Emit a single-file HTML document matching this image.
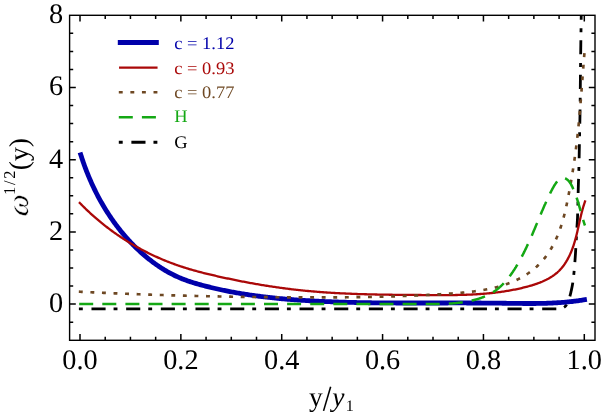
<!DOCTYPE html>
<html><head><meta charset="utf-8"><title>plot</title>
<style>
html,body{margin:0;padding:0;background:#fff;}
body{width:602px;height:416px;overflow:hidden;font-family:"Liberation Serif",serif;}
svg{display:block;will-change:transform;}
text{text-rendering:geometricPrecision;}
.ls, .ls text, .ls tspan{font-family:"Liberation Serif",serif;}
</style></head><body>
<svg width="602" height="416" viewBox="0 0 602 416">
<rect x="0" y="0" width="602" height="416" fill="#fff"/>
<defs><clipPath id="cp"><rect x="69.6" y="15.3" width="525.4" height="325.0"/></clipPath></defs>
<g clip-path="url(#cp)" fill="none" stroke-linejoin="round">
<path d="M78.9,308.8 L552.00,308.80 L552.63,308.80 L553.25,308.80 L553.88,308.80 L554.51,308.80 L555.13,308.80 L555.76,308.80 L556.39,308.80 L557.02,308.79 L557.64,308.78 L558.27,308.75 L558.90,308.73 L559.52,308.70 L560.15,308.64 L560.78,308.55 L561.40,308.43 L562.01,308.28 L562.58,308.11 L563.16,307.86 L563.73,307.54 L564.28,307.17 L564.79,306.77 L565.24,306.36 L565.64,305.94 L566.01,305.48 L566.36,304.98 L566.70,304.45 L567.01,303.89 L567.31,303.31 L567.60,302.73 L567.87,302.13 L568.12,301.54 L568.36,300.95 L568.59,300.37 L568.81,299.79 L569.01,299.20 L569.21,298.61 L569.40,298.01 L569.58,297.41 L569.75,296.80 L569.92,296.19 L570.08,295.58 L570.24,294.97 L570.39,294.36 L570.54,293.75 L570.68,293.14 L570.83,292.54 L570.97,291.93 L571.11,291.31 L571.25,290.70 L571.38,290.09 L571.51,289.48 L571.64,288.86 L571.77,288.25 L571.90,287.63 L572.02,287.02 L572.14,286.40 L572.26,285.78 L572.37,285.16 L572.48,284.55 L572.58,283.93 L572.69,283.31 L572.79,282.69 L572.88,282.07 L572.97,281.45 L573.06,280.83 L573.14,280.21 L573.22,279.59 L573.29,278.97 L573.37,278.35 L573.44,277.73 L573.52,277.11 L573.58,276.48 L573.65,275.86 L573.72,275.24 L573.78,274.61 L573.85,273.99 L573.91,273.37 L573.97,272.74 L574.03,272.12 L574.09,271.49 L574.15,270.87 L574.20,270.24 L574.26,269.62 L574.31,268.99 L574.37,268.37 L574.42,267.74 L574.47,267.12 L574.52,266.49 L574.57,265.87 L574.62,265.24 L574.67,264.62 L574.72,263.99 L574.77,263.37 L574.82,262.74 L574.87,262.12 L574.92,261.49 L574.96,260.87 L575.01,260.24 L575.05,259.62 L575.10,258.99 L575.14,258.37 L575.19,257.74 L575.23,257.11 L575.27,256.49 L575.31,255.86 L575.36,255.24 L575.40,254.61 L575.44,253.99 L575.48,253.36 L575.52,252.74 L575.56,252.11 L575.59,251.48 L575.63,250.86 L575.67,250.23 L575.71,249.61 L575.75,248.98 L575.78,248.36 L575.82,247.73 L575.86,247.10 L575.90,246.48 L575.93,245.85 L575.97,245.23 L576.01,244.60 L576.04,243.98 L576.08,243.35 L576.12,242.72 L576.15,242.10 L576.19,241.47 L576.22,240.85 L576.26,240.22 L576.29,239.59 L576.32,238.97 L576.36,238.34 L576.39,237.72 L576.42,237.09 L576.45,236.47 L576.49,235.84 L576.52,235.21 L576.55,234.59 L576.58,233.96 L576.61,233.34 L576.65,232.71 L576.68,232.08 L576.71,231.46 L576.74,230.83 L576.78,230.21 L576.81,229.58 L576.85,228.95 L576.88,228.33 L576.92,227.70 L576.95,227.08 L576.99,226.45 L577.03,225.82 L577.08,225.20 L577.12,224.57 L577.16,223.95 L577.20,223.32 L577.24,222.70 L577.28,222.07 L577.32,221.45 L577.36,220.82 L577.40,220.19 L577.43,219.57 L577.46,218.94 L577.49,218.32 L577.51,217.69 L577.54,217.06 L577.56,216.44 L577.58,215.81 L577.60,215.19 L577.62,214.56 L577.64,213.93 L577.66,213.31 L577.68,212.68 L577.70,212.05 L577.72,211.43 L577.74,210.80 L577.75,210.17 L577.77,209.55 L577.79,208.92 L577.80,208.29 L577.82,207.67 L577.83,207.04 L577.85,206.41 L577.86,205.79 L577.88,205.16 L577.89,204.53 L577.91,203.91 L577.92,203.28 L577.93,202.65 L577.95,202.03 L577.96,201.40 L577.97,200.77 L577.99,200.15 L578.00,199.52 L578.01,198.89 L578.03,198.27 L578.04,197.64 L578.05,197.01 L578.07,196.39 L578.08,195.76 L578.10,195.13 L578.11,194.51 L578.13,193.88 L578.14,193.25 L578.16,192.63 L578.17,192.00 L578.19,191.37 L578.20,190.75 L578.22,190.12 L578.24,189.49 L578.25,188.87 L578.27,188.24 L578.29,187.61 L578.31,186.99 L578.33,186.36 L578.34,185.73 L578.36,185.11 L578.38,184.48 L578.40,183.85 L578.42,183.23 L578.44,182.60 L578.46,181.97 L578.48,181.35 L578.50,180.72 L578.52,180.09 L578.54,179.47 L578.56,178.84 L578.58,178.22 L578.60,177.59 L578.62,176.96 L578.64,176.34 L578.66,175.71 L578.68,175.08 L578.70,174.46 L578.72,173.83 L578.74,173.20 L578.76,172.58 L578.78,171.95 L578.80,171.32 L578.82,170.70 L578.84,170.07 L578.85,169.44 L578.87,168.82 L578.89,168.19 L578.91,167.56 L578.92,166.94 L578.94,166.31 L578.96,165.68 L578.97,165.06 L578.99,164.43 L579.00,163.80 L579.02,163.18 L579.03,162.55 L579.05,161.93 L579.06,161.30 L579.08,160.67 L579.09,160.05 L579.10,159.42 L579.12,158.79 L579.13,158.17 L579.14,157.54 L579.16,156.91 L579.17,156.29 L579.18,155.66 L579.19,155.03 L579.21,154.41 L579.22,153.78 L579.23,153.15 L579.24,152.52 L579.25,151.90 L579.27,151.27 L579.28,150.64 L579.29,150.02 L579.30,149.39 L579.31,148.76 L579.33,148.14 L579.34,147.51 L579.35,146.88 L579.36,146.26 L579.37,145.63 L579.38,145.00 L579.40,144.38 L579.41,143.75 L579.42,143.12 L579.43,142.50 L579.44,141.87 L579.46,141.24 L579.47,140.62 L579.48,139.99 L579.49,139.36 L579.51,138.74 L579.52,138.11 L579.53,137.48 L579.54,136.86 L579.56,136.23 L579.57,135.60 L579.58,134.98 L579.60,134.35 L579.61,133.72 L579.62,133.10 L579.64,132.47 L579.65,131.84 L579.66,131.22 L579.68,130.59 L579.69,129.96 L579.71,129.34 L579.72,128.71 L579.73,128.08 L579.75,127.46 L579.76,126.83 L579.77,126.20 L579.79,125.58 L579.80,124.95 L579.81,124.32 L579.82,123.70 L579.84,123.07 L579.85,122.44 L579.86,121.82 L579.88,121.19 L579.89,120.56 L579.90,119.94 L579.91,119.31 L579.92,118.68 L579.93,118.06 L579.94,117.43 L579.96,116.80 L579.97,116.18 L579.98,115.55 L579.99,114.92 L580.00,114.30 L580.00,113.67 L580.01,113.04 L580.02,112.42 L580.03,111.79 L580.04,111.16 L580.05,110.54 L580.06,109.91 L580.07,109.28 L580.07,108.66 L580.08,108.03 L580.09,107.40 L580.10,106.78 L580.11,106.15 L580.11,105.52 L580.12,104.90 L580.13,104.27 L580.14,103.64 L580.15,103.01 L580.15,102.39 L580.16,101.76 L580.17,101.13 L580.17,100.51 L580.18,99.88 L580.19,99.25 L580.20,98.63 L580.20,98.00 L580.21,97.37 L580.22,96.75 L580.22,96.12 L580.23,95.49 L580.24,94.87 L580.24,94.24 L580.25,93.61 L580.25,92.99 L580.26,92.36 L580.27,91.73 L580.27,91.11 L580.28,90.48 L580.29,89.85 L580.29,89.23 L580.30,88.60 L580.31,87.97 L580.31,87.35 L580.32,86.72 L580.32,86.09 L580.33,85.46 L580.34,84.84 L580.34,84.21 L580.35,83.58 L580.35,82.96 L580.36,82.33 L580.37,81.70 L580.37,81.08 L580.38,80.45 L580.38,79.82 L580.39,79.20 L580.40,78.57 L580.40,77.94 L580.41,77.32 L580.42,76.69 L580.42,76.06 L580.43,75.44 L580.43,74.81 L580.44,74.18 L580.45,73.56 L580.45,72.93 L580.46,72.30 L580.47,71.68 L580.47,71.05 L580.48,70.42 L580.49,69.80 L580.49,69.17 L580.50,68.54 L580.51,67.91 L580.51,67.29 L580.52,66.66 L580.53,66.03 L580.54,65.41 L580.54,64.78 L580.55,64.15 L580.56,63.53 L580.56,62.90 L580.57,62.27 L580.58,61.65 L580.59,61.02 L580.60,60.39 L580.60,59.77 L580.61,59.14 L580.62,58.51 L580.63,57.89 L580.63,57.26 L580.64,56.63 L580.65,56.01 L580.66,55.38 L580.67,54.75 L580.68,54.13 L580.68,53.50 L580.69,52.87 L580.70,52.25 L580.71,51.62 L580.72,50.99 L580.73,50.37 L580.73,49.74 L580.74,49.11 L580.75,48.48 L580.76,47.86 L580.77,47.23 L580.78,46.60 L580.79,45.98 L580.80,45.35 L580.80,44.72 L580.81,44.10 L580.82,43.47 L580.83,42.84 L580.84,42.22 L580.85,41.59 L580.86,40.96 L580.87,40.34 L580.88,39.71 L580.88,39.08 L580.89,38.46 L580.90,37.83 L580.91,37.20 L580.92,36.58 L580.93,35.95 L580.94,35.32 L580.95,34.70 L580.96,34.07 L580.97,33.44 L580.98,32.82 L580.99,32.19 L580.99,31.56 L581.00,30.94 L581.01,30.31 L581.02,29.68 L581.03,29.06 L581.04,28.43 L581.05,27.80 L581.06,27.18 L581.07,26.55 L581.08,25.92 L581.09,25.30 L581.10,24.67 L581.11,24.04 L581.12,23.41 L581.13,22.79 L581.14,22.16 L581.15,21.53 L581.16,20.91 L581.17,20.28 L581.18,19.65 L581.19,19.03 L581.20,18.40 L581.21,17.77 L581.22,17.15 L581.23,16.52 L581.24,15.89 L581.25,15.27 L581.26,14.64 L581.27,14.01 L581.28,13.39 L581.29,12.76 L581.30,12.13 L581.31,11.51 L581.32,10.88 L581.33,10.25 L581.34,9.63 L581.35,9.00" stroke="#000000" stroke-width="2.8" stroke-dasharray="3.9 8.68 14.12 7.97"/>
<path d="M80.77,154.67 L81.12,155.75 L81.46,156.83 L81.81,157.91 L82.17,158.99 L82.53,160.07 L82.89,161.14 L83.26,162.22 L83.64,163.29 L84.02,164.37 L84.40,165.44 L84.79,166.51 L85.19,167.58 L85.59,168.65 L85.99,169.71 L86.40,170.78 L86.82,171.84 L87.24,172.90 L87.66,173.96 L88.09,175.02 L88.53,176.08 L88.97,177.13 L89.41,178.18 L89.86,179.23 L90.32,180.28 L90.78,181.33 L91.24,182.38 L91.71,183.42 L92.19,184.46 L92.67,185.50 L93.15,186.54 L93.64,187.57 L94.14,188.60 L94.64,189.63 L95.14,190.66 L95.65,191.69 L96.16,192.71 L96.68,193.73 L97.21,194.75 L97.74,195.77 L98.27,196.78 L98.81,197.79 L99.36,198.80 L99.91,199.80 L100.46,200.80 L101.02,201.80 L101.59,202.80 L102.16,203.79 L102.73,204.78 L103.31,205.77 L103.90,206.76 L104.49,207.74 L105.08,208.71 L105.68,209.69 L106.29,210.66 L106.90,211.63 L107.51,212.60 L108.13,213.56 L108.76,214.52 L109.39,215.47 L110.02,216.42 L110.66,217.37 L111.31,218.31 L111.96,219.26 L112.61,220.19 L113.27,221.13 L113.94,222.06 L114.61,222.98 L115.29,223.90 L115.97,224.82 L116.65,225.74 L117.34,226.65 L118.04,227.55 L118.74,228.45 L119.45,229.35 L120.16,230.25 L120.87,231.14 L121.59,232.02 L122.32,232.90 L123.05,233.78 L123.79,234.65 L124.53,235.52 L125.28,236.38 L126.03,237.24 L126.78,238.10 L127.55,238.95 L128.31,239.79 L129.08,240.63 L129.86,241.47 L130.64,242.30 L131.43,243.12 L132.22,243.95 L133.02,244.76 L133.82,245.57 L134.63,246.38 L135.44,247.18 L136.26,247.98 L137.08,248.77 L137.91,249.55 L138.74,250.33 L139.58,251.11 L140.42,251.88 L141.27,252.65 L142.12,253.40 L142.98,254.16 L143.85,254.91 L144.71,255.65 L145.59,256.39 L146.47,257.12 L147.35,257.84 L148.24,258.56 L149.13,259.28 L150.03,259.98 L150.94,260.69 L151.85,261.38 L152.76,262.07 L153.68,262.75 L154.60,263.42 L155.53,264.09 L156.47,264.75 L157.41,265.40 L158.35,266.05 L159.30,266.68 L160.25,267.31 L161.21,267.94 L162.17,268.55 L163.14,269.15 L164.12,269.75 L165.09,270.34 L166.08,270.92 L167.06,271.49 L168.06,272.05 L169.05,272.60 L170.06,273.15 L171.06,273.68 L172.07,274.21 L173.09,274.72 L174.11,275.23 L175.14,275.72 L176.17,276.21 L177.20,276.69 L178.24,277.15 L179.29,277.61 L180.34,278.05 L181.39,278.48 L182.45,278.91 L183.51,279.32 L184.57,279.73 L185.64,280.12 L186.72,280.51 L187.79,280.89 L188.87,281.26 L189.96,281.63 L191.04,281.98 L192.13,282.33 L193.22,282.68 L194.31,283.01 L195.41,283.34 L196.51,283.66 L197.61,283.98 L198.71,284.30 L199.81,284.60 L200.91,284.91 L202.02,285.21 L203.12,285.50 L204.23,285.79 L205.34,286.08 L206.45,286.36 L207.56,286.64 L208.67,286.92 L209.78,287.19 L210.89,287.46 L212.00,287.73 L213.11,288.00 L214.23,288.26 L215.34,288.51 L216.45,288.77 L217.57,289.02 L218.68,289.27 L219.80,289.51 L220.92,289.75 L222.03,289.99 L223.15,290.23 L224.27,290.46 L225.39,290.69 L226.51,290.91 L227.63,291.14 L228.75,291.36 L229.87,291.57 L230.99,291.79 L232.11,292.00 L233.24,292.21 L234.36,292.41 L235.48,292.61 L236.61,292.81 L237.73,293.01 L238.86,293.20 L239.98,293.40 L241.11,293.58 L242.24,293.77 L243.36,293.95 L244.49,294.13 L245.62,294.31 L246.75,294.49 L247.88,294.66 L249.01,294.83 L250.14,295.00 L251.27,295.16 L252.40,295.32 L253.53,295.48 L254.66,295.64 L255.79,295.80 L256.92,295.95 L258.06,296.10 L259.19,296.25 L260.32,296.39 L261.46,296.53 L262.59,296.68 L263.72,296.81 L264.86,296.95 L265.99,297.08 L267.13,297.22 L268.26,297.35 L269.40,297.47 L270.54,297.60 L271.67,297.72 L272.81,297.84 L273.95,297.96 L275.08,298.08 L276.22,298.19 L277.36,298.31 L278.50,298.42 L279.64,298.53 L280.77,298.63 L281.91,298.74 L283.05,298.84 L284.19,298.94 L285.33,299.04 L286.47,299.14 L287.61,299.24 L288.75,299.33 L289.89,299.42 L291.03,299.51 L292.17,299.60 L293.31,299.69 L294.45,299.77 L295.60,299.86 L296.74,299.94 L297.88,300.02 L299.02,300.10 L300.16,300.18 L301.30,300.25 L302.45,300.33 L303.59,300.40 L304.73,300.47 L305.87,300.54 L307.01,300.61 L308.16,300.68 L309.30,300.74 L310.44,300.81 L311.58,300.87 L312.73,300.93 L313.87,300.99 L315.01,301.05 L316.15,301.11 L317.30,301.17 L318.44,301.22 L319.58,301.28 L320.73,301.33 L321.87,301.38 L323.01,301.44 L324.15,301.49 L325.30,301.53 L326.44,301.58 L327.58,301.63 L328.73,301.68 L329.87,301.72 L331.01,301.76 L332.15,301.81 L333.30,301.85 L334.44,301.89 L335.58,301.93 L336.72,301.97 L337.87,302.01 L339.01,302.05 L340.15,302.08 L341.30,302.12 L342.44,302.15 L343.58,302.19 L344.72,302.22 L345.87,302.25 L347.01,302.28 L348.15,302.31 L349.29,302.34 L350.43,302.37 L351.58,302.40 L352.72,302.43 L353.86,302.45 L355.00,302.48 L356.15,302.50 L357.29,302.53 L358.43,302.55 L359.57,302.57 L360.72,302.59 L361.86,302.62 L363.00,302.64 L364.14,302.66 L365.29,302.68 L366.43,302.69 L367.57,302.71 L368.71,302.73 L369.85,302.75 L371.00,302.76 L372.14,302.78 L373.28,302.79 L374.42,302.81 L375.57,302.82 L376.71,302.83 L377.85,302.84 L378.99,302.86 L380.13,302.87 L381.28,302.88 L382.42,302.89 L383.56,302.90 L384.70,302.91 L385.85,302.92 L386.99,302.93 L388.13,302.93 L389.27,302.94 L390.41,302.95 L391.56,302.95 L392.70,302.96 L393.84,302.97 L394.98,302.97 L396.13,302.98 L397.27,302.98 L398.41,302.99 L399.55,302.99 L400.69,302.99 L401.84,303.00 L402.98,303.00 L404.12,303.00 L405.26,303.00 L406.41,303.01 L407.55,303.01 L408.69,303.01 L409.83,303.01 L410.97,303.01 L412.12,303.01 L413.26,303.01 L414.40,303.01 L415.54,303.01 L416.69,303.01 L417.83,303.01 L418.97,303.01 L420.11,303.01 L421.26,303.01 L422.40,303.01 L423.54,303.01 L424.68,303.01 L425.83,303.01 L426.97,303.01 L428.11,303.00 L429.25,303.00 L430.40,303.00 L431.54,303.00 L432.68,303.00 L433.82,303.00 L434.97,302.99 L436.11,302.99 L437.25,302.99 L438.40,302.99 L439.54,302.99 L440.68,302.98 L441.82,302.98 L442.97,302.98 L444.11,302.98 L445.25,302.98 L446.39,302.98 L447.54,302.98 L448.68,302.97 L449.82,302.97 L450.97,302.97 L452.11,302.97 L453.25,302.97 L454.40,302.97 L455.54,302.97 L456.68,302.97 L457.82,302.97 L458.97,302.97 L460.11,302.97 L461.25,302.97 L462.40,302.97 L463.54,302.97 L464.68,302.97 L465.83,302.97 L466.97,302.98 L468.11,302.98 L469.26,302.98 L470.40,302.98 L471.55,302.99 L472.69,302.99 L473.83,302.99 L474.98,303.00 L476.12,303.00 L477.26,303.01 L478.41,303.01 L479.55,303.02 L480.69,303.02 L481.84,303.03 L482.98,303.04 L484.13,303.04 L485.27,303.05 L486.41,303.06 L487.56,303.07 L488.70,303.08 L489.85,303.09 L490.99,303.10 L492.14,303.11 L493.28,303.12 L494.42,303.13 L495.57,303.14 L496.71,303.15 L497.86,303.17 L499.00,303.18 L500.15,303.20 L501.29,303.21 L502.44,303.23 L503.58,303.24 L504.72,303.26 L505.87,303.27 L507.01,303.29 L508.16,303.31 L509.30,303.32 L510.45,303.34 L511.59,303.36 L512.74,303.37 L513.88,303.39 L515.03,303.40 L516.17,303.42 L517.32,303.43 L518.46,303.44 L519.61,303.45 L520.75,303.46 L521.89,303.47 L523.04,303.48 L524.18,303.49 L525.33,303.50 L526.47,303.50 L527.61,303.50 L528.76,303.51 L529.90,303.51 L531.04,303.50 L532.19,303.50 L533.33,303.49 L534.47,303.49 L535.62,303.48 L536.76,303.46 L537.90,303.45 L539.04,303.43 L540.19,303.41 L541.33,303.39 L542.47,303.37 L543.61,303.34 L544.75,303.31 L545.89,303.28 L547.04,303.24 L548.18,303.20 L549.32,303.16 L550.46,303.11 L551.60,303.06 L552.74,303.01 L553.88,302.95 L555.02,302.89 L556.15,302.83 L557.29,302.76 L558.43,302.69 L559.57,302.61 L560.71,302.53 L561.84,302.45 L562.98,302.36 L564.12,302.27 L565.25,302.17 L566.39,302.07 L567.53,301.96 L568.66,301.85 L569.80,301.73 L570.93,301.61 L572.07,301.49 L573.20,301.36 L574.33,301.22 L575.47,301.08 L576.60,300.93 L577.73,300.78 L578.86,300.62 L580.00,300.45 L581.13,300.28 L582.26,300.11 L583.39,299.93 L584.52,299.74" stroke="#0000aa" stroke-width="4.8" stroke-linecap="square"/>
<path d="M79.80,202.97 L80.61,203.81 L81.43,204.64 L82.25,205.47 L83.07,206.30 L83.90,207.12 L84.73,207.94 L85.57,208.75 L86.41,209.56 L87.25,210.37 L88.10,211.17 L88.95,211.96 L89.81,212.76 L90.67,213.55 L91.53,214.33 L92.39,215.11 L93.26,215.89 L94.14,216.66 L95.01,217.43 L95.89,218.19 L96.78,218.95 L97.67,219.71 L98.56,220.46 L99.45,221.21 L100.35,221.95 L101.25,222.69 L102.15,223.42 L103.06,224.15 L103.97,224.88 L104.89,225.60 L105.81,226.32 L106.73,227.03 L107.65,227.74 L108.58,228.44 L109.51,229.14 L110.44,229.84 L111.38,230.53 L112.32,231.22 L113.27,231.90 L114.21,232.58 L115.16,233.25 L116.12,233.92 L117.07,234.58 L118.03,235.24 L118.99,235.90 L119.96,236.55 L120.93,237.20 L121.90,237.84 L122.87,238.48 L123.85,239.11 L124.83,239.74 L125.81,240.36 L126.80,240.98 L127.78,241.60 L128.78,242.21 L129.77,242.81 L130.77,243.41 L131.77,244.01 L132.77,244.60 L133.77,245.19 L134.78,245.77 L135.79,246.35 L136.80,246.92 L137.82,247.49 L138.84,248.05 L139.86,248.61 L140.88,249.16 L141.91,249.71 L142.93,250.26 L143.96,250.80 L145.00,251.33 L146.03,251.86 L147.07,252.39 L148.11,252.91 L149.15,253.43 L150.20,253.94 L151.25,254.44 L152.30,254.94 L153.35,255.44 L154.40,255.93 L155.46,256.42 L156.52,256.90 L157.58,257.38 L158.64,257.85 L159.71,258.32 L160.78,258.78 L161.85,259.24 L162.92,259.69 L163.99,260.13 L165.07,260.58 L166.15,261.01 L167.23,261.45 L168.31,261.87 L169.39,262.30 L170.48,262.71 L171.57,263.12 L172.65,263.53 L173.75,263.93 L174.84,264.33 L175.94,264.72 L177.03,265.11 L178.13,265.49 L179.23,265.87 L180.34,266.24 L181.44,266.60 L182.55,266.96 L183.65,267.32 L184.76,267.67 L185.87,268.02 L186.99,268.36 L188.10,268.70 L189.22,269.03 L190.33,269.36 L191.45,269.69 L192.57,270.01 L193.69,270.33 L194.81,270.64 L195.93,270.95 L197.06,271.26 L198.18,271.56 L199.31,271.86 L200.44,272.15 L201.57,272.45 L202.69,272.74 L203.82,273.02 L204.96,273.31 L206.09,273.59 L207.22,273.86 L208.35,274.14 L209.49,274.41 L210.62,274.68 L211.76,274.95 L212.89,275.22 L214.03,275.48 L215.16,275.74 L216.30,276.00 L217.44,276.26 L218.58,276.51 L219.71,276.77 L220.85,277.02 L221.99,277.27 L223.13,277.52 L224.27,277.77 L225.41,278.01 L226.55,278.26 L227.69,278.50 L228.83,278.74 L229.97,278.98 L231.11,279.22 L232.25,279.46 L233.39,279.69 L234.53,279.93 L235.67,280.16 L236.81,280.39 L237.96,280.62 L239.10,280.84 L240.24,281.07 L241.38,281.29 L242.53,281.51 L243.67,281.73 L244.81,281.95 L245.96,282.17 L247.10,282.38 L248.25,282.59 L249.39,282.80 L250.53,283.01 L251.68,283.22 L252.83,283.43 L253.97,283.63 L255.12,283.83 L256.26,284.03 L257.41,284.23 L258.56,284.43 L259.70,284.62 L260.85,284.81 L262.00,285.01 L263.14,285.19 L264.29,285.38 L265.44,285.57 L266.59,285.75 L267.74,285.93 L268.89,286.11 L270.03,286.29 L271.18,286.46 L272.33,286.64 L273.48,286.81 L274.63,286.98 L275.78,287.15 L276.93,287.31 L278.08,287.48 L279.24,287.64 L280.39,287.80 L281.54,287.95 L282.69,288.11 L283.84,288.26 L284.99,288.41 L286.15,288.56 L287.30,288.71 L288.45,288.86 L289.61,289.00 L290.76,289.14 L291.91,289.28 L293.07,289.42 L294.22,289.55 L295.38,289.68 L296.53,289.81 L297.69,289.94 L298.84,290.07 L300.00,290.19 L301.15,290.31 L302.31,290.43 L303.46,290.55 L304.62,290.66 L305.78,290.78 L306.93,290.89 L308.09,291.00 L309.25,291.10 L310.41,291.21 L311.56,291.31 L312.72,291.41 L313.88,291.51 L315.04,291.61 L316.20,291.70 L317.36,291.80 L318.52,291.89 L319.68,291.98 L320.84,292.07 L322.00,292.15 L323.16,292.24 L324.32,292.32 L325.48,292.40 L326.64,292.48 L327.80,292.55 L328.96,292.63 L330.12,292.70 L331.28,292.78 L332.44,292.85 L333.60,292.91 L334.77,292.98 L335.93,293.05 L337.09,293.11 L338.25,293.17 L339.41,293.24 L340.58,293.30 L341.74,293.35 L342.90,293.41 L344.06,293.47 L345.23,293.52 L346.39,293.57 L347.55,293.62 L348.72,293.67 L349.88,293.72 L351.04,293.77 L352.21,293.81 L353.37,293.86 L354.54,293.90 L355.70,293.95 L356.87,293.99 L358.03,294.03 L359.19,294.06 L360.36,294.10 L361.52,294.14 L362.69,294.17 L363.85,294.21 L365.02,294.24 L366.18,294.27 L367.35,294.31 L368.51,294.34 L369.68,294.37 L370.84,294.39 L372.01,294.42 L373.18,294.45 L374.34,294.47 L375.51,294.50 L376.67,294.52 L377.84,294.55 L379.00,294.57 L380.17,294.59 L381.34,294.61 L382.50,294.63 L383.67,294.65 L384.83,294.67 L386.00,294.69 L387.17,294.70 L388.33,294.72 L389.50,294.74 L390.66,294.75 L391.83,294.77 L393.00,294.78 L394.16,294.80 L395.33,294.81 L396.49,294.82 L397.66,294.84 L398.83,294.85 L399.99,294.86 L401.16,294.87 L402.33,294.88 L403.49,294.89 L404.66,294.90 L405.82,294.91 L406.99,294.92 L408.16,294.93 L409.32,294.94 L410.49,294.95 L411.66,294.96 L412.82,294.97 L413.99,294.97 L415.15,294.98 L416.32,294.99 L417.48,295.00 L418.65,295.01 L419.82,295.01 L420.98,295.02 L422.15,295.03 L423.31,295.04 L424.48,295.04 L425.64,295.05 L426.81,295.06 L427.97,295.07 L429.14,295.07 L430.31,295.08 L431.47,295.09 L432.64,295.10 L433.80,295.10 L434.96,295.11 L436.13,295.11 L437.29,295.12 L438.46,295.12 L439.62,295.12 L440.79,295.12 L441.95,295.12 L443.12,295.12 L444.28,295.12 L445.44,295.12 L446.61,295.11 L447.77,295.11 L448.93,295.10 L450.10,295.09 L451.26,295.08 L452.42,295.07 L453.59,295.05 L454.75,295.04 L455.91,295.02 L457.07,295.00 L458.23,294.97 L459.40,294.95 L460.56,294.92 L461.72,294.89 L462.88,294.86 L464.04,294.82 L465.20,294.79 L466.36,294.75 L467.52,294.70 L468.69,294.66 L469.85,294.61 L471.01,294.56 L472.17,294.50 L473.32,294.44 L474.48,294.38 L475.64,294.32 L476.80,294.25 L477.96,294.18 L479.12,294.10 L480.28,294.02 L481.43,293.94 L482.59,293.85 L483.75,293.76 L484.91,293.66 L486.06,293.57 L487.22,293.46 L488.38,293.35 L489.53,293.24 L490.69,293.13 L491.84,293.00 L493.00,292.88 L494.15,292.75 L495.31,292.61 L496.46,292.47 L497.62,292.33 L498.77,292.18 L499.92,292.02 L501.08,291.86 L502.23,291.70 L503.38,291.53 L504.54,291.35 L505.69,291.17 L506.84,290.98 L507.99,290.79 L509.14,290.59 L510.29,290.39 L511.44,290.18 L512.59,289.96 L513.74,289.74 L514.89,289.51 L516.04,289.28 L517.19,289.03 L518.34,288.79 L519.48,288.53 L520.63,288.27 L521.78,288.01 L522.92,287.73 L524.07,287.45 L525.22,287.17 L526.36,286.87 L527.50,286.57 L528.65,286.26 L529.79,285.94 L530.92,285.61 L532.06,285.28 L533.19,284.93 L534.31,284.57 L535.43,284.20 L536.55,283.82 L537.65,283.43 L538.75,283.02 L539.85,282.61 L540.93,282.17 L542.01,281.73 L543.07,281.27 L544.13,280.79 L545.17,280.30 L546.21,279.80 L547.23,279.27 L548.24,278.73 L549.23,278.17 L550.22,277.60 L551.19,277.00 L552.14,276.39 L553.08,275.75 L554.00,275.10 L554.91,274.42 L555.80,273.73 L556.67,273.01 L557.52,272.27 L558.35,271.51 L559.17,270.72 L559.96,269.92 L560.73,269.08 L561.49,268.23 L562.22,267.35 L562.93,266.45 L563.63,265.53 L564.30,264.59 L564.96,263.64 L565.59,262.67 L566.21,261.68 L566.81,260.67 L567.40,259.65 L567.96,258.62 L568.51,257.57 L569.04,256.52 L569.56,255.45 L570.06,254.37 L570.54,253.29 L571.01,252.19 L571.46,251.09 L571.90,249.99 L572.32,248.88 L572.73,247.76 L573.12,246.64 L573.50,245.52 L573.87,244.40 L574.22,243.27 L574.57,242.14 L574.90,241.01 L575.23,239.88 L575.54,238.74 L575.84,237.60 L576.14,236.46 L576.43,235.32 L576.71,234.18 L576.99,233.04 L577.26,231.90 L577.53,230.75 L577.79,229.61 L578.05,228.47 L578.31,227.33 L578.56,226.18 L578.82,225.04 L579.07,223.90 L579.32,222.76 L579.57,221.62 L579.83,220.48 L580.09,219.35 L580.34,218.21 L580.61,217.08 L580.87,215.95 L581.14,214.83 L581.42,213.70 L581.70,212.58 L581.99,211.46 L582.29,210.35 L582.59,209.24 L582.91,208.13 L583.23,207.03 L583.56,205.93 L583.91,204.83 L584.26,203.74 L584.63,202.65 L585.01,201.57" stroke="#aa0808" stroke-width="2.3" stroke-linecap="square"/>
<path d="M78.84,291.69 L80.21,291.75 L81.59,291.82 L82.96,291.89 L84.34,291.95 L85.71,292.02 L87.09,292.08 L88.46,292.15 L89.84,292.21 L91.21,292.28 L92.59,292.34 L93.96,292.41 L95.34,292.47 L96.72,292.53 L98.09,292.59 L99.47,292.66 L100.85,292.72 L102.22,292.78 L103.60,292.84 L104.98,292.90 L106.36,292.96 L107.73,293.02 L109.11,293.08 L110.49,293.13 L111.87,293.19 L113.24,293.25 L114.62,293.31 L116.00,293.36 L117.38,293.42 L118.76,293.48 L120.13,293.53 L121.51,293.59 L122.89,293.64 L124.27,293.70 L125.65,293.75 L127.03,293.80 L128.41,293.86 L129.79,293.91 L131.17,293.96 L132.55,294.01 L133.93,294.06 L135.30,294.11 L136.68,294.17 L138.06,294.22 L139.44,294.27 L140.82,294.31 L142.20,294.36 L143.58,294.41 L144.96,294.46 L146.34,294.51 L147.72,294.56 L149.11,294.60 L150.49,294.65 L151.87,294.70 L153.25,294.74 L154.63,294.79 L156.01,294.83 L157.39,294.88 L158.77,294.92 L160.15,294.96 L161.53,295.01 L162.91,295.05 L164.29,295.09 L165.68,295.13 L167.06,295.18 L168.44,295.22 L169.82,295.26 L171.20,295.30 L172.58,295.34 L173.96,295.38 L175.34,295.42 L176.73,295.46 L178.11,295.50 L179.49,295.53 L180.87,295.57 L182.25,295.61 L183.63,295.65 L185.02,295.68 L186.40,295.72 L187.78,295.75 L189.16,295.79 L190.54,295.82 L191.93,295.86 L193.31,295.89 L194.69,295.93 L196.07,295.96 L197.45,295.99 L198.84,296.03 L200.22,296.06 L201.60,296.09 L202.98,296.12 L204.36,296.15 L205.75,296.18 L207.13,296.21 L208.51,296.24 L209.89,296.27 L211.27,296.30 L212.66,296.33 L214.04,296.36 L215.42,296.39 L216.80,296.42 L218.18,296.44 L219.57,296.47 L220.95,296.50 L222.33,296.52 L223.71,296.55 L225.09,296.57 L226.48,296.60 L227.86,296.62 L229.24,296.65 L230.62,296.67 L232.00,296.70 L233.38,296.72 L234.77,296.74 L236.15,296.76 L237.53,296.79 L238.91,296.81 L240.29,296.83 L241.68,296.85 L243.06,296.87 L244.44,296.89 L245.82,296.91 L247.20,296.93 L248.58,296.95 L249.96,296.97 L251.35,296.99 L252.73,297.00 L254.11,297.02 L255.49,297.04 L256.87,297.05 L258.25,297.07 L259.63,297.09 L261.01,297.10 L262.39,297.12 L263.77,297.13 L265.16,297.15 L266.54,297.16 L267.92,297.18 L269.30,297.19 L270.68,297.20 L272.06,297.21 L273.44,297.23 L274.82,297.24 L276.20,297.25 L277.58,297.26 L278.96,297.27 L280.34,297.28 L281.72,297.29 L283.10,297.30 L284.48,297.31 L285.86,297.32 L287.24,297.33 L288.62,297.34 L290.00,297.35 L291.37,297.35 L292.75,297.36 L294.13,297.37 L295.51,297.38 L296.89,297.38 L298.27,297.39 L299.65,297.39 L301.03,297.40 L302.40,297.40 L303.78,297.41 L305.16,297.41 L306.54,297.42 L307.92,297.42 L309.29,297.42 L310.67,297.42 L312.05,297.43 L313.43,297.43 L314.81,297.43 L316.18,297.43 L317.56,297.43 L318.94,297.43 L320.32,297.43 L321.69,297.43 L323.07,297.42 L324.45,297.42 L325.82,297.42 L327.20,297.42 L328.58,297.41 L329.95,297.41 L331.33,297.40 L332.71,297.40 L334.09,297.39 L335.46,297.38 L336.84,297.37 L338.22,297.37 L339.59,297.36 L340.97,297.35 L342.35,297.34 L343.72,297.33 L345.10,297.31 L346.48,297.30 L347.85,297.29 L349.23,297.27 L350.61,297.26 L351.99,297.24 L353.36,297.23 L354.74,297.21 L356.12,297.19 L357.49,297.18 L358.87,297.16 L360.25,297.14 L361.62,297.12 L363.00,297.09 L364.38,297.07 L365.76,297.05 L367.13,297.02 L368.51,297.00 L369.89,296.97 L371.27,296.95 L372.64,296.92 L374.02,296.89 L375.40,296.86 L376.78,296.83 L378.16,296.80 L379.54,296.76 L380.91,296.73 L382.29,296.70 L383.67,296.66 L385.05,296.62 L386.43,296.59 L387.81,296.55 L389.19,296.51 L390.57,296.47 L391.94,296.43 L393.32,296.38 L394.70,296.34 L396.08,296.30 L397.46,296.25 L398.84,296.20 L400.22,296.15 L401.60,296.10 L402.98,296.05 L404.36,296.00 L405.75,295.95 L407.13,295.90 L408.51,295.84 L409.89,295.78 L411.27,295.73 L412.65,295.67 L414.03,295.61 L415.42,295.55 L416.80,295.48 L418.18,295.42 L419.56,295.36 L420.95,295.29 L422.33,295.22 L423.71,295.15 L425.10,295.08 L426.48,295.01 L427.87,294.94 L429.25,294.87 L430.63,294.79 L432.02,294.71 L433.40,294.63 L434.79,294.56 L436.17,294.47 L437.56,294.39 L438.95,294.31 L440.33,294.22 L441.72,294.14 L443.11,294.05 L444.49,293.96 L445.88,293.87 L447.27,293.77 L448.66,293.68 L450.04,293.59 L451.43,293.49 L452.82,293.39 L454.21,293.29 L455.60,293.18 L456.99,293.08 L458.38,292.97 L459.76,292.85 L461.15,292.74 L462.54,292.62 L463.92,292.49 L465.31,292.36 L466.69,292.22 L468.07,292.08 L469.45,291.93 L470.83,291.78 L472.21,291.62 L473.58,291.45 L474.95,291.27 L476.33,291.09 L477.69,290.90 L479.06,290.70 L480.43,290.49 L481.79,290.27 L483.15,290.05 L484.50,289.81 L485.86,289.56 L487.21,289.30 L488.55,289.04 L489.89,288.76 L491.23,288.47 L492.57,288.16 L493.90,287.85 L495.23,287.52 L496.56,287.18 L497.88,286.83 L499.19,286.46 L500.50,286.08 L501.81,285.68 L503.11,285.27 L504.41,284.85 L505.70,284.41 L506.99,283.95 L508.27,283.48 L509.55,282.99 L510.82,282.49 L512.08,281.97 L513.34,281.43 L514.60,280.87 L515.84,280.29 L517.08,279.70 L518.32,279.09 L519.55,278.46 L520.77,277.81 L521.98,277.14 L523.18,276.45 L524.38,275.74 L525.56,275.02 L526.73,274.27 L527.89,273.51 L529.03,272.72 L530.16,271.92 L531.28,271.10 L532.38,270.25 L533.47,269.39 L534.54,268.51 L535.59,267.61 L536.62,266.69 L537.63,265.74 L538.63,264.78 L539.60,263.80 L540.56,262.81 L541.49,261.79 L542.41,260.76 L543.30,259.71 L544.18,258.65 L545.04,257.57 L545.88,256.47 L546.70,255.37 L547.50,254.24 L548.28,253.11 L549.04,251.97 L549.78,250.81 L550.51,249.64 L551.22,248.47 L551.90,247.28 L552.57,246.09 L553.22,244.88 L553.86,243.67 L554.48,242.45 L555.08,241.22 L555.66,239.98 L556.23,238.73 L556.78,237.48 L557.32,236.22 L557.84,234.95 L558.35,233.68 L558.85,232.40 L559.33,231.11 L559.80,229.82 L560.25,228.52 L560.70,227.21 L561.13,225.90 L561.55,224.59 L561.96,223.27 L562.35,221.94 L562.74,220.61 L563.12,219.28 L563.48,217.94 L563.84,216.60 L564.19,215.26 L564.53,213.91 L564.86,212.56 L565.19,211.21 L565.50,209.85 L565.81,208.50 L566.12,207.14 L566.41,205.78 L566.70,204.41 L566.99,203.05 L567.27,201.68 L567.55,200.32 L567.82,198.95 L568.08,197.59 L568.35,196.22 L568.61,194.86 L568.87,193.49 L569.12,192.13 L569.37,190.76 L569.63,189.40 L569.87,188.04 L570.12,186.68 L570.36,185.31 L570.60,183.95 L570.84,182.59 L571.07,181.23 L571.31,179.87 L571.54,178.51 L571.76,177.15 L571.99,175.79 L572.21,174.44 L572.43,173.08 L572.65,171.72 L572.87,170.36 L573.08,169.00 L573.29,167.64 L573.50,166.29 L573.70,164.93 L573.91,163.57 L574.11,162.21 L574.30,160.85 L574.50,159.49 L574.69,158.13 L574.88,156.78 L575.07,155.42 L575.26,154.06 L575.44,152.70 L575.62,151.34 L575.80,149.97 L575.97,148.61 L576.15,147.25 L576.32,145.89 L576.49,144.52 L576.65,143.16 L576.82,141.80 L576.98,140.43 L577.14,139.07 L577.29,137.70 L577.45,136.33 L577.60,134.96 L577.75,133.59 L577.89,132.22 L578.04,130.85 L578.18,129.48 L578.32,128.11 L578.46,126.74 L578.59,125.36 L578.73,123.99 L578.86,122.61 L578.99,121.24 L579.12,119.86 L579.25,118.49 L579.37,117.11 L579.49,115.73 L579.62,114.35 L579.74,112.98 L579.86,111.60 L579.97,110.22 L580.09,108.84 L580.21,107.46 L580.32,106.08 L580.43,104.70 L580.54,103.32 L580.66,101.94 L580.77,100.56 L580.87,99.18 L580.98,97.80 L581.09,96.42 L581.20,95.04 L581.30,93.66 L581.41,92.28 L581.52,90.90 L581.62,89.52 L581.72,88.14 L581.83,86.76 L581.93,85.38 L582.04,84.00 L582.14,82.62 L582.24,81.24 L582.35,79.86 L582.45,78.49 L582.55,77.11 L582.66,75.73 L582.76,74.35 L582.86,72.98 L582.97,71.60 L583.07,70.22 L583.18,68.85 L583.28,67.47 L583.39,66.10 L583.50,64.73 L583.60,63.35 L583.71,61.98 L583.82,60.61 L583.93,59.24 L584.04,57.87 L584.16,56.50 L584.27,55.13 L584.38,53.77 L584.50,52.40 L584.61,51.03" stroke="#6e4823" stroke-width="2.65" stroke-dasharray="3.9 7.67"/>
<path d="M79.2,304.1 L424.96,304.09 L425.49,304.09 L426.03,304.09 L426.56,304.09 L427.09,304.09 L427.62,304.09 L428.15,304.09 L428.68,304.09 L429.21,304.09 L429.74,304.09 L430.27,304.09 L430.79,304.09 L431.32,304.08 L431.85,304.08 L432.37,304.08 L432.90,304.08 L433.42,304.07 L433.94,304.07 L434.47,304.07 L434.99,304.06 L435.51,304.06 L436.03,304.05 L436.56,304.04 L437.08,304.04 L437.60,304.03 L438.12,304.02 L438.64,304.01 L439.16,304.00 L439.67,303.99 L440.19,303.98 L440.71,303.97 L441.23,303.96 L441.75,303.94 L442.26,303.93 L442.78,303.91 L443.30,303.90 L443.81,303.88 L444.33,303.86 L444.85,303.84 L445.36,303.82 L445.88,303.80 L446.39,303.77 L446.91,303.75 L447.43,303.72 L447.94,303.70 L448.46,303.67 L448.97,303.64 L449.49,303.61 L450.00,303.58 L450.52,303.54 L451.03,303.51 L451.55,303.47 L452.06,303.43 L452.58,303.39 L453.10,303.35 L453.61,303.31 L454.13,303.27 L454.64,303.22 L455.16,303.17 L455.68,303.12 L456.19,303.07 L456.71,303.02 L457.23,302.96 L457.74,302.91 L458.26,302.85 L458.78,302.79 L459.30,302.73 L459.81,302.66 L460.33,302.60 L460.85,302.53 L461.37,302.46 L461.89,302.39 L462.41,302.31 L462.93,302.24 L463.45,302.16 L463.97,302.08 L464.49,301.99 L465.01,301.91 L465.53,301.82 L466.06,301.73 L466.58,301.64 L467.10,301.54 L467.62,301.45 L468.14,301.35 L468.66,301.25 L469.18,301.14 L469.70,301.03 L470.22,300.92 L470.74,300.81 L471.26,300.70 L471.78,300.58 L472.30,300.46 L472.81,300.33 L473.33,300.21 L473.85,300.08 L474.36,299.95 L474.87,299.81 L475.39,299.67 L475.90,299.53 L476.41,299.39 L476.92,299.24 L477.43,299.09 L477.93,298.94 L478.44,298.78 L478.94,298.62 L479.45,298.46 L479.95,298.29 L480.45,298.12 L480.95,297.95 L481.44,297.77 L481.94,297.59 L482.43,297.41 L482.92,297.22 L483.41,297.03 L483.90,296.83 L484.38,296.63 L484.87,296.43 L485.35,296.23 L485.83,296.02 L486.30,295.81 L486.78,295.59 L487.25,295.37 L487.72,295.14 L488.19,294.92 L488.65,294.68 L489.12,294.45 L489.58,294.21 L490.03,293.96 L490.49,293.72 L490.94,293.46 L491.39,293.21 L491.84,292.95 L492.28,292.68 L492.72,292.41 L493.16,292.14 L493.59,291.86 L494.02,291.58 L494.45,291.29 L494.87,291.00 L495.29,290.70 L495.71,290.40 L496.13,290.10 L496.54,289.79 L496.95,289.48 L497.35,289.17 L497.75,288.85 L498.15,288.52 L498.55,288.20 L498.95,287.86 L499.34,287.53 L499.72,287.19 L500.11,286.85 L500.49,286.50 L500.87,286.15 L501.25,285.80 L501.62,285.45 L501.99,285.09 L502.36,284.72 L502.73,284.36 L503.09,283.99 L503.45,283.62 L503.81,283.24 L504.17,282.87 L504.52,282.49 L504.87,282.10 L505.22,281.72 L505.56,281.33 L505.91,280.93 L506.25,280.54 L506.59,280.14 L506.92,279.74 L507.26,279.34 L507.59,278.94 L507.92,278.53 L508.24,278.12 L508.57,277.71 L508.89,277.29 L509.21,276.88 L509.53,276.46 L509.84,276.04 L510.16,275.62 L510.47,275.19 L510.78,274.77 L511.08,274.34 L511.39,273.91 L511.69,273.48 L511.99,273.05 L512.29,272.61 L512.59,272.18 L512.88,271.74 L513.18,271.30 L513.47,270.86 L513.76,270.42 L514.05,269.98 L514.33,269.53 L514.62,269.09 L514.90,268.64 L515.18,268.19 L515.46,267.74 L515.74,267.30 L516.01,266.85 L516.29,266.39 L516.56,265.94 L516.83,265.49 L517.10,265.04 L517.37,264.58 L517.64,264.13 L517.90,263.67 L518.17,263.22 L518.43,262.76 L518.69,262.31 L518.95,261.85 L519.21,261.39 L519.46,260.94 L519.72,260.48 L519.97,260.02 L520.23,259.56 L520.48,259.10 L520.73,258.64 L520.98,258.18 L521.22,257.72 L521.47,257.26 L521.72,256.79 L521.96,256.33 L522.20,255.87 L522.44,255.41 L522.68,254.94 L522.92,254.48 L523.16,254.01 L523.40,253.55 L523.64,253.08 L523.87,252.62 L524.10,252.15 L524.34,251.69 L524.57,251.22 L524.80,250.75 L525.03,250.29 L525.26,249.82 L525.49,249.35 L525.71,248.88 L525.94,248.41 L526.16,247.94 L526.39,247.47 L526.61,247.00 L526.83,246.53 L527.06,246.06 L527.28,245.59 L527.50,245.12 L527.72,244.65 L527.93,244.17 L528.15,243.70 L528.37,243.23 L528.59,242.76 L528.80,242.28 L529.02,241.81 L529.23,241.34 L529.44,240.86 L529.66,240.39 L529.87,239.91 L530.08,239.44 L530.29,238.96 L530.50,238.49 L530.71,238.01 L530.92,237.53 L531.13,237.06 L531.34,236.58 L531.55,236.11 L531.75,235.63 L531.96,235.15 L532.17,234.67 L532.37,234.20 L532.58,233.72 L532.78,233.24 L532.99,232.76 L533.19,232.28 L533.40,231.80 L533.60,231.32 L533.80,230.85 L534.01,230.37 L534.21,229.89 L534.41,229.41 L534.62,228.93 L534.82,228.45 L535.02,227.97 L535.22,227.49 L535.42,227.01 L535.62,226.52 L535.83,226.04 L536.03,225.56 L536.23,225.08 L536.43,224.60 L536.63,224.12 L536.83,223.64 L537.03,223.16 L537.23,222.67 L537.43,222.19 L537.63,221.71 L537.83,221.23 L538.03,220.74 L538.23,220.26 L538.44,219.78 L538.64,219.30 L538.84,218.82 L539.04,218.33 L539.24,217.85 L539.44,217.37 L539.64,216.89 L539.84,216.40 L540.05,215.92 L540.25,215.44 L540.45,214.96 L540.65,214.47 L540.86,213.99 L541.06,213.51 L541.26,213.03 L541.47,212.55 L541.67,212.07 L541.87,211.58 L542.08,211.10 L542.28,210.62 L542.49,210.14 L542.70,209.66 L542.90,209.18 L543.11,208.70 L543.32,208.22 L543.52,207.74 L543.73,207.26 L543.94,206.78 L544.15,206.30 L544.36,205.82 L544.57,205.35 L544.78,204.87 L544.99,204.39 L545.20,203.91 L545.42,203.44 L545.63,202.96 L545.84,202.48 L546.06,202.01 L546.27,201.53 L546.49,201.06 L546.71,200.58 L546.92,200.11 L547.14,199.64 L547.36,199.16 L547.58,198.69 L547.80,198.22 L548.02,197.75 L548.24,197.27 L548.47,196.80 L548.69,196.33 L548.92,195.86 L549.14,195.40 L549.37,194.93 L549.59,194.46 L549.82,193.99 L550.05,193.53 L550.28,193.06 L550.51,192.60 L550.75,192.13 L550.98,191.67 L551.21,191.20 L551.45,190.74 L551.69,190.28 L551.93,189.82 L552.17,189.36 L552.41,188.90 L552.66,188.44 L552.91,187.98 L553.17,187.52 L553.43,187.07 L553.69,186.61 L553.96,186.16 L554.24,185.70 L554.52,185.25 L554.81,184.80 L555.10,184.35 L555.40,183.89 L555.71,183.45 L556.03,183.00 L556.35,182.55 L556.69,182.10 L557.03,181.66 L557.39,181.23 L557.75,180.81 L558.12,180.41 L558.50,180.02 L558.89,179.66 L559.29,179.33 L559.71,179.02 L560.13,178.75 L560.57,178.51 L561.01,178.31 L561.47,178.16 L561.94,178.05 L562.42,177.99 L562.91,177.98 L563.40,178.01 L563.89,178.08 L564.37,178.18 L564.85,178.32 L565.32,178.49 L565.77,178.69 L566.21,178.92 L566.63,179.18 L567.04,179.46 L567.44,179.76 L567.82,180.09 L568.19,180.44 L568.55,180.81 L568.90,181.20 L569.23,181.61 L569.56,182.03 L569.87,182.47 L570.18,182.92 L570.47,183.38 L570.76,183.86 L571.04,184.34 L571.31,184.83 L571.57,185.33 L571.82,185.83 L572.07,186.34 L572.31,186.85 L572.54,187.36 L572.77,187.87 L573.00,188.38 L573.21,188.89 L573.43,189.40 L573.64,189.90 L573.85,190.39 L574.05,190.88 L574.25,191.37 L574.44,191.86 L574.63,192.34 L574.82,192.82 L575.01,193.30 L575.19,193.77 L575.37,194.25 L575.55,194.72 L575.72,195.19 L575.90,195.67 L576.07,196.14 L576.23,196.61 L576.40,197.08 L576.56,197.56 L576.73,198.03 L576.89,198.51 L577.05,198.99 L577.20,199.47 L577.36,199.95 L577.51,200.44 L577.67,200.93 L577.82,201.42 L577.97,201.91 L578.12,202.40 L578.27,202.90 L578.42,203.39 L578.57,203.89 L578.72,204.39 L578.87,204.89 L579.01,205.39 L579.16,205.90 L579.30,206.40 L579.45,206.90 L579.59,207.41 L579.74,207.92 L579.88,208.43 L580.02,208.93 L580.16,209.44 L580.31,209.95 L580.45,210.46 L580.59,210.97 L580.74,211.48 L580.88,211.99 L581.02,212.50 L581.16,213.01 L581.31,213.52 L581.45,214.03 L581.60,214.54 L581.74,215.05 L581.88,215.56 L582.03,216.07 L582.18,216.58 L582.32,217.08 L582.47,217.59 L582.62,218.09 L582.77,218.60 L582.92,219.10 L583.07,219.60 L583.22,220.10 L583.37,220.60 L583.53,221.10 L583.68,221.59 L583.84,222.09 L584.00,222.58 L584.16,223.07 L584.32,223.56 L584.48,224.05 L584.64,224.53 L584.81,225.01 L584.97,225.49" stroke="#14a814" stroke-width="2.5" stroke-dasharray="14 9.1"/>
</g>
<rect x="69.6" y="15.3" width="525.40" height="325.00" fill="none" stroke="#000" stroke-width="1.4"/>
<path d="M80.00,340.3 v-6.2 M80.00,15.3 v6.2 M105.22,340.3 v-3.6 M105.22,15.3 v3.6 M130.43,340.3 v-3.6 M130.43,15.3 v3.6 M155.65,340.3 v-3.6 M155.65,15.3 v3.6 M180.86,340.3 v-6.2 M180.86,15.3 v6.2 M206.07,340.3 v-3.6 M206.07,15.3 v3.6 M231.29,340.3 v-3.6 M231.29,15.3 v3.6 M256.50,340.3 v-3.6 M256.50,15.3 v3.6 M281.72,340.3 v-6.2 M281.72,15.3 v6.2 M306.94,340.3 v-3.6 M306.94,15.3 v3.6 M332.15,340.3 v-3.6 M332.15,15.3 v3.6 M357.37,340.3 v-3.6 M357.37,15.3 v3.6 M382.58,340.3 v-6.2 M382.58,15.3 v6.2 M407.80,340.3 v-3.6 M407.80,15.3 v3.6 M433.01,340.3 v-3.6 M433.01,15.3 v3.6 M458.23,340.3 v-3.6 M458.23,15.3 v3.6 M483.44,340.3 v-6.2 M483.44,15.3 v6.2 M508.66,340.3 v-3.6 M508.66,15.3 v3.6 M533.87,340.3 v-3.6 M533.87,15.3 v3.6 M559.09,340.3 v-3.6 M559.09,15.3 v3.6 M584.30,340.3 v-6.2 M584.30,15.3 v6.2 M69.6,322.15 h3.6 M595.0,322.15 h-3.6 M69.6,304.10 h6.2 M595.0,304.10 h-6.2 M69.6,286.05 h3.6 M595.0,286.05 h-3.6 M69.6,268.00 h3.6 M595.0,268.00 h-3.6 M69.6,249.95 h3.6 M595.0,249.95 h-3.6 M69.6,231.90 h6.2 M595.0,231.90 h-6.2 M69.6,213.85 h3.6 M595.0,213.85 h-3.6 M69.6,195.80 h3.6 M595.0,195.80 h-3.6 M69.6,177.75 h3.6 M595.0,177.75 h-3.6 M69.6,159.70 h6.2 M595.0,159.70 h-6.2 M69.6,141.65 h3.6 M595.0,141.65 h-3.6 M69.6,123.60 h3.6 M595.0,123.60 h-3.6 M69.6,105.55 h3.6 M595.0,105.55 h-3.6 M69.6,87.50 h6.2 M595.0,87.50 h-6.2 M69.6,69.45 h3.6 M595.0,69.45 h-3.6 M69.6,51.40 h3.6 M595.0,51.40 h-3.6 M69.6,33.35 h3.6 M595.0,33.35 h-3.6" stroke="#000" stroke-width="1.5" fill="none"/>
<g class="ls" font-size="28.3" fill="#000">
<text x="80.00" y="368.9" text-anchor="middle">0.0</text>
<text x="180.86" y="368.9" text-anchor="middle">0.2</text>
<text x="281.72" y="368.9" text-anchor="middle">0.4</text>
<text x="382.58" y="368.9" text-anchor="middle">0.6</text>
<text x="483.44" y="368.9" text-anchor="middle">0.8</text>
<text x="584.30" y="368.9" text-anchor="middle">1.0</text>
<text x="63.2" y="312.00" text-anchor="end">0</text>
<text x="63.2" y="239.80" text-anchor="end">2</text>
<text x="63.2" y="167.60" text-anchor="end">4</text>
<text x="63.2" y="95.40" text-anchor="end">6</text>
<text x="63.2" y="23.20" text-anchor="end">8</text>
</g>
<g class="ls" fill="#000">
<text x="309.0" y="406.3" font-size="27.5">y</text>
<path d="M323.55,410.9 L330.65,386.8" stroke="#000" stroke-width="1.55" fill="none"/>
<text x="332.3" y="406.3" font-size="27.5" font-style="italic">y</text>
<text x="345.7" y="410.7" font-size="16">1</text>
<text transform="translate(28.1,217.9) rotate(-90) scale(1.1,1) skewX(-14)" font-size="30" stroke="#fff" stroke-width="0.45" paint-order="fill stroke">ω</text>
<text transform="translate(14.5,194.9) rotate(-90)" font-size="16.5" letter-spacing="1.6">1/2</text>
<text transform="translate(28.1,170.2) rotate(-90)" font-size="27.5">(y)</text>
</g>
<g class="ls" font-size="17.7">
<path d="M120.2,42.5 H156.4" stroke="#0000aa" stroke-width="4.8" fill="none" stroke-linecap="square"/>
<text transform="translate(174.2,48.70) scale(1.045,1)" fill="#0000aa">c = 1.12</text>
<path d="M120.2,67.6 H156.4" stroke="#aa0808" stroke-width="2.3" fill="none" stroke-linecap="square"/>
<text transform="translate(174.2,73.80) scale(1.045,1)" fill="#aa0808">c = 0.93</text>
<path d="M118.8,92.25 H157.8" stroke="#6e4823" stroke-width="2.65" fill="none" stroke-dasharray="3.9 7.67"/>
<text transform="translate(174.2,98.35) scale(1.045,1)" fill="#6e4823">c = 0.77</text>
<path d="M118.8,117.3 H157.8" stroke="#14a814" stroke-width="2.5" fill="none" stroke-dasharray="14 9.1"/>
<text transform="translate(174.2,121.50) scale(1.045,1)" fill="#14a814">H</text>
<path d="M118.8,142.25 H157.8" stroke="#000000" stroke-width="2.8" fill="none" stroke-dasharray="3.9 8.68 14.12 7.97"/>
<text transform="translate(174.2,148.05) scale(1.045,1)" fill="#000000">G</text>
</g>
</svg>
</body></html>
